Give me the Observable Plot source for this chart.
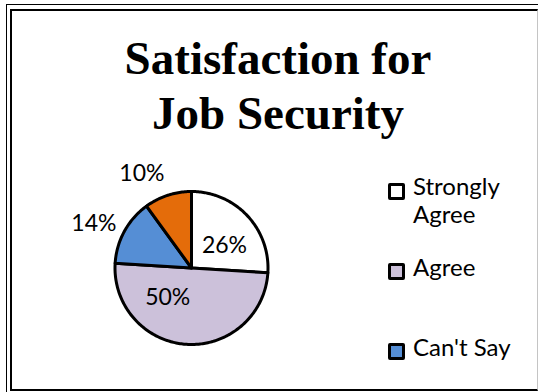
<!DOCTYPE html>
<html><head><meta charset="utf-8">
<script src="https://cdn.jsdelivr.net/npm/d3@7"></script>
<script src="https://cdn.jsdelivr.net/npm/@observablehq/plot@0.6"></script>
<style>
html,body{margin:0;padding:0;background:#fff;}
#page{position:relative;width:538px;height:392px;overflow:hidden;background:#fff;}
.outer{position:absolute;left:6px;top:4px;width:700px;height:700px;border-left:1.5px solid #000;border-top:1.5px solid #000;}
.inner{position:absolute;left:10px;top:9px;width:528px;height:382px;box-sizing:border-box;border-left:2px solid #000;border-top:2px solid #000;border-right:1px solid #c4c4c4;border-bottom:2.5px solid #000;}
#title{position:absolute;left:0;top:30.6px;width:556px;text-align:center;font-family:"Liberation Serif","Times New Roman",serif;font-weight:bold;font-size:47px;line-height:55px;color:#000;}
#chart{position:absolute;left:0;top:0;}
.leg{position:absolute;font-family:Lato,"Noto Sans",sans-serif;font-size:24px;line-height:28px;color:#000;width:112px;}
.sw{position:absolute;width:17px;height:17px;box-sizing:border-box;border:3px solid #000;border-radius:2px;}
</style>
</head><body>
<div id="page">
  <div class="outer"></div>
  <div class="inner"></div>
  <div id="title">Satisfaction for<br>Job Security</div>
  <div id="chart"></div>
  <div id="legend"></div>
</div>
<script>
// ---- data ----
const categories = ["Strongly Agree", "Agree", "Can't Say", "Disagree"];
const percents = [26, 50, 14, 10];
const percentLabels = ["26%", "50%", "14%", "10%"];
const legendCount = 3; // the original legend shows only the first three entries

// ---- styles / layout ----
const colors = ["#FFFFFF", "#CCC1DA", "#558ED5", "#E46C0A"];
const labelRadius = [0.52, 0.50, 1.40, 1.39];
const labelAngleNudge = [9.2, 34.9, -4.5, -9.8];
const cx = 191, cy = 267.5, r = 76.5;

const total = d3.sum(percents);
let acc = 0;
const slices = percents.map((p, i) => {
  const a0 = acc / total * 2 * Math.PI; acc += p;
  const a1 = acc / total * 2 * Math.PI;
  return {i, a0, a1, mid: (a0 + a1) / 2};
});
function polygon(s) {
  const pts = [{x: 0, y: 0}];
  const n = Math.max(2, Math.ceil((s.a1 - s.a0) / (Math.PI / 180)));
  for (let k = 0; k <= n; k++) {
    const a = s.a0 + (s.a1 - s.a0) * k / n;
    pts.push({x: Math.sin(a), y: Math.cos(a)});
  }
  return pts;
}
const labelData = slices.map(s => {
  const a = s.mid + labelAngleNudge[s.i] * Math.PI / 180;
  return {x: Math.sin(a) * labelRadius[s.i], y: Math.cos(a) * labelRadius[s.i], t: percentLabels[s.i]};
});

const plot = Plot.plot({
  width: 538, height: 392,
  margin: 0,
  style: {background: "transparent", overflow: "visible"},
  x: {domain: [-1, 1], range: [cx - r, cx + r], axis: null},
  y: {domain: [-1, 1], range: [cy + r, cy - r], axis: null},
  marks: [
    ...slices.map(s => Plot.line(polygon(s), {
      x: "x", y: "y", curve: "linear-closed",
      fill: colors[s.i], stroke: "#000", strokeWidth: 3, strokeLinejoin: "round"
    })),
    Plot.text(labelData, {x: "x", y: "y", text: "t", fontSize: 23, fontFamily: "Lato, 'Noto Sans', sans-serif", fill: "#000"})
  ]
});
document.getElementById("chart").appendChild(plot);

// legend built from the categories
const legendTops = [182.5, 262.5, 342.5];
const textTops = [171.7, 252.7, 332.7];
const leg = document.getElementById("legend");
categories.slice(0, legendCount).forEach((c, i) => {
  const sw = document.createElement("div");
  sw.className = "sw";
  sw.style.left = "387.5px";
  sw.style.top = legendTops[i] + "px";
  sw.style.background = colors[i];
  leg.appendChild(sw);
  const t = document.createElement("div");
  t.className = "leg";
  t.style.left = "413px";
  t.style.top = textTops[i] + "px";
  t.textContent = c;
  leg.appendChild(t);
});
</script>
</body></html>
